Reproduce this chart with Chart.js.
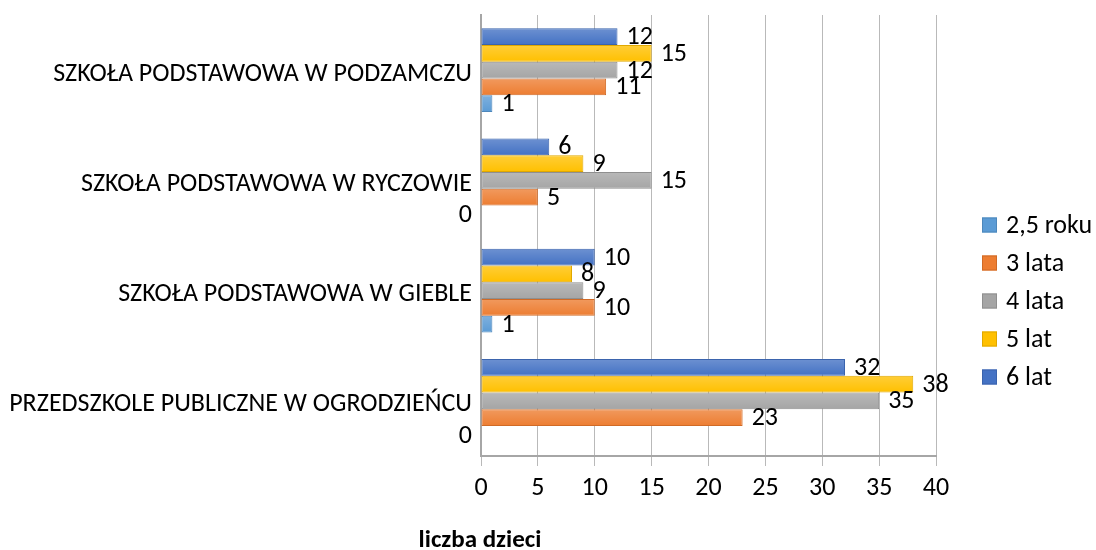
<!DOCTYPE html>
<html>
<head>
<meta charset="utf-8">
<script src="https://cdn.jsdelivr.net/npm/chart.js@4.4.1/dist/chart.umd.min.js"></script>
<style>
  html, body { margin: 0; padding: 0; background: #fff; }
</style>
</head>
<body>
<canvas id="chart" width="1096" height="550"></canvas>
<script>
// data
const categories = [
  'SZKOŁA PODSTAWOWA W PODZAMCZU',
  'SZKOŁA PODSTAWOWA W RYCZOWIE',
  'SZKOŁA PODSTAWOWA W GIEBLE',
  'PRZEDSZKOLE PUBLICZNE W OGRODZIEŃCU',
];
const age25 = [1, 0, 1, 0];
const age3 = [11, 5, 10, 23];
const age4 = [12, 15, 9, 35];
const age5 = [15, 9, 8, 38];
const age6 = [12, 6, 10, 32];
const xMin = 0;
const xMax = 40;
const xStep = 5;
const axisTitle = 'liczba dzieci';

const FONT = 'Calibri, Carlito, Lato, sans-serif';
const textColor = '#000';

// top to bottom inside a group: 6 lat ... 2,5 roku
const series = [
  { label: '6 lat', data: age6, color: '#4472c4', border: '#3a63ad' },
  { label: '5 lat', data: age5, color: '#ffc000', border: '#e0a800' },
  { label: '4 lata', data: age4, color: '#a5a5a5', border: '#8f8f8f' },
  { label: '3 lata', data: age3, color: '#ed7d31', border: '#d06a26' },
  { label: '2,5 roku', data: age25, color: '#5b9bd5', border: '#4d87bb' },
];

const barLabels = {
  id: 'barLabels',
  afterDatasetsDraw(chart) {
    const ctx = chart.ctx;
    ctx.save();
    // light sheen, stronger at the top of each bar
    chart.data.datasets.forEach((ds, i) => {
      chart.getDatasetMeta(i).data.forEach((bar, j) => {
        if (!ds.data[j]) return;
        const top = bar.y - bar.height / 2;
        const g = ctx.createLinearGradient(0, top, 0, top + bar.height);
        g.addColorStop(0, 'rgba(255,255,255,0.22)');
        g.addColorStop(1, 'rgba(255,255,255,0)');
        ctx.fillStyle = g;
        ctx.fillRect(bar.base + 1, top + 1, bar.x - bar.base - 2, bar.height - 2);
      });
    });
    ctx.font = '26px ' + FONT;
    ctx.fillStyle = textColor;
    ctx.textBaseline = 'middle';
    chart.data.datasets.forEach((ds, i) => {
      chart.getDatasetMeta(i).data.forEach((bar, j) => {
        const v = ds.data[j];
        if (v === 0) {
          ctx.textAlign = 'right';
          ctx.fillText(String(v), bar.base - 9, bar.y + 2);
        } else {
          ctx.textAlign = 'left';
          ctx.fillText(String(v), bar.x + 9, bar.y + 1);
        }
      });
    });
    ctx.restore();
  },
};

const sideLegend = {
  id: 'sideLegend',
  afterDraw(chart) {
    const ctx = chart.ctx;
    ctx.save();
    ctx.font = '26px ' + FONT;
    ctx.textBaseline = 'middle';
    ctx.textAlign = 'left';
    const items = chart.data.datasets.slice().reverse();
    items.forEach((ds, k) => {
      const y = 225 + k * 38;
      ctx.fillStyle = ds.backgroundColor;
      ctx.fillRect(982, y - 7.5, 15, 15);
      ctx.strokeStyle = ds.borderColor;
      ctx.lineWidth = 1;
      ctx.strokeRect(982.5, y - 7, 14, 14);
      ctx.fillStyle = textColor;
      ctx.fillText(ds.label, 1006, y + 1);
    });
    // axis title, placed where the original puts it
    ctx.font = 'bold 25px ' + FONT;
    ctx.textAlign = 'center';
    ctx.fillText(axisTitle, 480, 541);
    ctx.restore();
  },
};

new Chart(document.getElementById('chart'), {
  type: 'bar',
  data: {
    labels: categories,
    datasets: series.map((s) => ({
      label: s.label,
      data: s.data,
      backgroundColor: s.color,
      borderColor: s.border,
      borderWidth: (c) => (c.raw === 0 ? 0 : 1),
      borderSkipped: false,
      barPercentage: 1,
      categoryPercentage: 0.76,
    })),
  },
  options: {
    indexAxis: 'y',
    responsive: false,
    animation: false,
    devicePixelRatio: 1,
    layout: { padding: { top: 15, right: 160, bottom: 0, left: 0 } },
    plugins: {
      legend: { display: false },
      tooltip: { enabled: false },
    },
    scales: {
      x: {
        min: xMin,
        max: xMax,
        ticks: {
          stepSize: xStep,
          color: textColor,
          font: { family: FONT, size: 26 },
          padding: 7,
        },
        grid: {
          color: '#b9b9b9',
          lineWidth: 1,
          tickLength: 10,
          drawTicks: true,
        },
        border: { display: true, color: '#a6a6a6', width: 2 },
        afterFit: (scale) => { scale.height = 94; },
      },
      y: {
        ticks: {
          color: textColor,
          font: { family: FONT, size: 26 },
          padding: 9,
          labelOffset: 4,
        },
        grid: { display: false, drawTicks: false },
        border: { display: true, color: '#a6a6a6', width: 2 },
        afterFit: (scale) => {
          scale.width = 481;
          // labels sit mid-category, no overflow to reserve
          scale.paddingTop = 0;
          scale.paddingBottom = 0;
        },
      },
    },
  },
  plugins: [barLabels, sideLegend],
});
</script>
</body>
</html>
